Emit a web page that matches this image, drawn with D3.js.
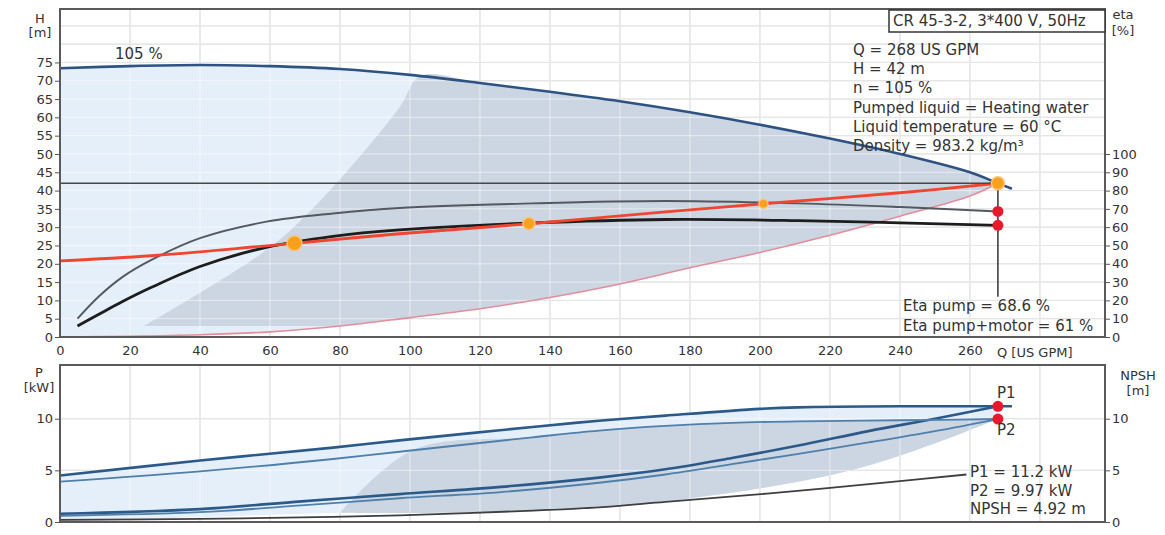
<!DOCTYPE html>
<html><head><meta charset="utf-8">
<script src="https://cdn.jsdelivr.net/npm/d3@7"></script>
<style>
body{margin:0;background:#fff}
svg{display:block}
text{font-family:"DejaVu Sans",sans-serif;fill:#333}
</style>
</head><body>
<svg id="c" width="1165" height="535"></svg>
<script>
// ---------- tick labels ----------
const qTicks = [0,20,40,60,80,100,120,140,160,180,200,220,240,260];
const qGrid = [20,40,60,80,100,120,140,160,180,200,220,240,260,280];
const hTicks = [0,5,10,15,20,25,30,35,40,45,50,55,60,65,70,75];
const hGrid = [5,10,15,20,25,30,35,40,45,50,55,60,65,70,75,80,85];
const etaTicks = [0,10,20,30,40,50,60,70,80,90,100];
const pTicks = [0,5,10];
const pGrid = [5,10];
const npshTicks = [0,5,10];

// ---------- pump head curve (105 %) ----------
const headQ = [0,20,40,60,80,100,120,140,160,180,200,220,240,260,268,272];
const headH = [73.4,74.0,74.3,74.0,73.2,71.6,69.4,67.0,64.4,61.4,58.0,54.2,50.0,45.0,42.0,40.5];

// ---------- system curve ----------
const sysQ = [0,20,40,60,80,100,120,140,160,180,200,220,240,260,268];
const sysH = [0,0.2,0.6,1.4,3.0,5.3,7.7,10.8,14.5,18.9,23.1,27.8,33.0,38.5,42.0];

// ---------- load profile line (red) ----------
const loadQ = [0,26,59,97,135,173,201,240,268];
const loadH = [20.8,22.2,24.9,28.2,31.0,34.2,36.4,39.4,42.0];
const profileQ = [67,134,201,268];
const profileH = [25.6,31.0,36.4,42.0];

// ---------- efficiencies ----------
const etaPumpQ = [5,11,18,26,40,59,78,97,135,173,211,240,268];
const etaPumpV = [10,22,33,42,54,63,67.5,70.5,73,74.3,73,71,68.6];
const etaTotQ = [5,11,18,26,40,59,78,97,135,173,211,240,268];
const etaTotV = [6,12.3,19.5,27,38.5,49,55,58.5,62.3,64.2,63.6,62.4,61.0];

// ---------- operating point ----------
const dutyQ = 268, dutyH = 42, etaPumpDuty = 68.6, etaTotDuty = 61;
const p1Duty = 11.2, p2Duty = 9.97, npshDuty = 4.92;
const leaderEtaEnd = 22;

// ---------- power curves ----------
const p1HighQ = [0,40,78,97,135,154,173,200,211,240,268,272];
const p1HighV = [4.5,5.95,7.2,7.9,9.2,9.8,10.3,10.95,11.1,11.2,11.2,11.2];
const p2HighQ = [0,40,78,97,135,154,173,192,211,240,268];
const p2HighV = [3.9,4.9,6.1,6.8,8.2,8.85,9.3,9.6,9.75,9.85,9.97];
const p1LowQ = [0,40,69,97,126,154,173,192,211,231,250,268];
const p1LowV = [0.8,1.25,2.0,2.7,3.4,4.3,5.1,6.2,7.4,8.8,10.0,11.2];
const p2LowQ = [0,40,69,97,126,154,173,192,211,231,250,268];
const p2LowV = [0.6,0.95,1.6,2.3,2.9,3.8,4.6,5.6,6.6,7.7,8.8,9.97];
const npshQ = [0,40,78,97,135,155,173,202,240,259];
const npshV = [0.2,0.3,0.5,0.65,1.1,1.45,1.95,2.75,3.95,4.6];

// ---------- shaded regions ----------
const topEdgeQ = [24,45,62,78,97,103];
const topEdgeH = [3,15,26,41,62.7,71.3];
const topFloorH = 3;
const botEdgeQ = [80,101];
const botEdgeV = [0.9,7.0];
const botLowQ = [0,80,155,226,268];
const botLowV = [0,0.9,1.4,5.0,9.97];

// ---------- texts ----------
const titleText = "CR 45-3-2, 3*400 V, 50Hz";
const infoLines = ["Q = 268 US GPM","H = 42 m","n = 105 %","Pumped liquid = Heating water","Liquid temperature = 60 °C","Density = 983.2 kg/m³"];
const etaLines = ["Eta pump = 68.6 %","Eta pump+motor = 61 %"];
const powerLines = ["P1 = 11.2 kW","P2 = 9.97 kW","NPSH = 4.92 m"];
const speedLabel = "105 %";

// =============== drawing ===============
const svg = d3.select('#c');
const zip = (a,b) => a.map((v,i)=>[v,b[i]]);

const L = 60, R = 1105, T1 = 9, B1 = 337, T2 = 365, B2 = 522;
const x = d3.scaleLinear().domain([0,298.6]).range([L,R]);
const yH = d3.scaleLinear().domain([0,89.6]).range([B1,T1]);
const yE = d3.scaleLinear().domain([0,179.2]).range([B1,T1]);
const yP = d3.scaleLinear().domain([0,15.2]).range([B2,T2]);

const curve = d3.curveCatmullRom.alpha(0.5);
const lineH = d3.line().x(d=>x(d[0])).y(d=>yH(d[1])).curve(curve);
const lineE = d3.line().x(d=>x(d[0])).y(d=>yE(d[1])).curve(curve);
const lineP = d3.line().x(d=>x(d[0])).y(d=>yP(d[1])).curve(curve);

const gridColor = '#c6c6c6';
function grid(g, top, bottom, hs, yScale, color, op){
  g.selectAll(null).data(qGrid).enter().append('line')
    .attr('x1',d=>x(d)).attr('x2',d=>x(d)).attr('y1',top).attr('y2',bottom)
    .attr('stroke',color).attr('stroke-width',1).attr('opacity',op);
  g.selectAll(null).data(hs).enter().append('line')
    .attr('x1',L).attr('x2',R).attr('y1',d=>yScale(d)).attr('y2',d=>yScale(d))
    .attr('stroke',color).attr('stroke-width',1).attr('opacity',op);
}
grid(svg.append('g'), T1, B1, hGrid, yH, gridColor, 1);
grid(svg.append('g'), T2, B2, pGrid, yP, gridColor, 1);

const lightFill = '#e5effa', grayFill = '#cbd6e2';

// top light fill : head curve above system curve
const headPts = zip(headQ, headH).filter(d=>d[0]<=268);
const sysPts = zip(sysQ, sysH);
svg.append('path')
  .attr('d', lineH(headPts) + 'L' + lineH(sysPts.slice().reverse()).slice(1) + 'Z')
  .attr('fill', lightFill);
// top gray fill
const edge = zip(topEdgeQ, topEdgeH);
const headAfter = headPts.filter(d=>d[0] > topEdgeQ[topEdgeQ.length-1]);
const sysBack = sysPts.filter(d=>d[1] >= topFloorH).reverse();
svg.append('path')
  .attr('d', lineH(edge.concat(headAfter)) + 'L' + lineH(sysBack).slice(1) + 'Z')
  .attr('fill', grayFill);

// bottom light fill
const p1HighPts = zip(p1HighQ, p1HighV).filter(d=>d[0]<=268);
const botLow = zip(botLowQ, botLowV);
svg.append('path')
  .attr('d', lineP(p1HighPts) + 'L' + lineP(botLow.slice().reverse()).slice(1) + 'Z')
  .attr('fill', lightFill);
// bottom gray fill
const p2HighPts = zip(p2HighQ, p2HighV);
const bEdge = zip(botEdgeQ, botEdgeV);
const p2After = p2HighPts.filter(d=>d[0] > botEdgeQ[botEdgeQ.length-1]);
const lowBack = botLow.filter(d=>d[0] >= botEdgeQ[0]).reverse();
svg.append('path')
  .attr('d', lineP(bEdge.concat(p2After)) + 'L' + lineP(lowBack).slice(1) + 'Z')
  .attr('fill', grayFill);

// white grid over fills
grid(svg.append('g'), T1, B1, hGrid, yH, '#ffffff', 0.55);
grid(svg.append('g'), T2, B2, pGrid, yP, '#ffffff', 0.55);

// ---------- top curves ----------
function stroke(d, color, w, op){
  svg.append('path').attr('d', d).attr('fill','none').attr('stroke',color)
    .attr('stroke-width',w).attr('opacity', op||1).attr('stroke-linejoin','round');
}
stroke(lineH(sysPts), '#e58c9b', 1.6);
stroke(lineE(zip(etaPumpQ, etaPumpV)), '#55595f', 1.9);
stroke(lineE(zip(etaTotQ, etaTotV)), '#1d1d1d', 2.8);
stroke(lineH(zip(loadQ, loadH)), '#f04631', 2.8);
stroke(lineH(zip(headQ, headH)), '#2e5282', 2.6);

// duty head line + leader
svg.append('line').attr('x1',L).attr('x2',x(dutyQ)).attr('y1',yH(dutyH)).attr('y2',yH(dutyH))
  .attr('stroke','#474747').attr('stroke-width',1.7);
svg.append('line').attr('x1',x(dutyQ)).attr('x2',x(dutyQ)).attr('y1',yH(dutyH)).attr('y2',yE(leaderEtaEnd))
  .attr('stroke','#333').attr('stroke-width',1.5);

// load profile dots
const profR = [7.5,6,4.5,6.5];
svg.selectAll(null).data(zip(profileQ, profileH)).enter().append('circle')
  .attr('cx',d=>x(d[0])).attr('cy',d=>yH(d[1])).attr('r',(d,i)=>profR[i])
  .attr('fill','#f7a11c').attr('stroke','#fbc47a').attr('stroke-width',1.5);
// efficiency dots
svg.selectAll(null).data([etaPumpDuty, etaTotDuty]).enter().append('circle')
  .attr('cx',x(dutyQ)).attr('cy',d=>yE(d)).attr('r',5.5).attr('fill','#e8192c');

// ---------- bottom curves ----------
stroke(lineP(zip(npshQ, npshV)), '#3f3f3f', 1.8);
stroke(lineP(zip(p2LowQ, p2LowV)), '#4f7fab', 1.8);
stroke(lineP(zip(p1LowQ, p1LowV)), '#2b5a8a', 2.6);
stroke(lineP(p2HighPts), '#4f7fab', 1.8);
stroke(lineP(zip(p1HighQ, p1HighV)), '#2b5a8a', 2.6);
svg.selectAll(null).data([p1Duty, p2Duty]).enter().append('circle')
  .attr('cx',x(dutyQ)).attr('cy',d=>yP(d)).attr('r',5.5).attr('fill','#e8192c');

// ---------- frames ----------
svg.append('rect').attr('x',L).attr('y',T1).attr('width',R-L).attr('height',B1-T1)
  .attr('fill','none').attr('stroke','#5a5a5a').attr('stroke-width',2);
svg.append('rect').attr('x',L).attr('y',T2).attr('width',R-L).attr('height',B2-T2)
  .attr('fill','none').attr('stroke','#5a5a5a').attr('stroke-width',2);

// ---------- axes ----------
function styleAxis(g, size){
  g.select('.domain').remove();
  g.selectAll('line').attr('stroke','#555');
  g.selectAll('text').attr('font-family','DejaVu Sans').attr('font-size',size).attr('fill','#333');
}
svg.append('g').attr('transform',`translate(${L},0)`)
  .call(d3.axisLeft(yH).tickValues(hTicks).tickSize(5).tickPadding(2).tickFormat(d3.format('d')))
  .call(g=>styleAxis(g,13));
svg.append('g').attr('transform',`translate(${R},0)`)
  .call(d3.axisRight(yE).tickValues(etaTicks).tickSize(5).tickPadding(2).tickFormat(d3.format('d')))
  .call(g=>styleAxis(g,13));
svg.append('g').attr('transform',`translate(0,${B1})`)
  .call(d3.axisBottom(x).tickValues(qTicks).tickSize(0).tickPadding(9).tickFormat(d3.format('d')))
  .call(g=>styleAxis(g,13));
svg.append('g').attr('transform',`translate(${L},0)`)
  .call(d3.axisLeft(yP).tickValues(pTicks).tickSize(5).tickPadding(2).tickFormat(d3.format('d')))
  .call(g=>styleAxis(g,13));
svg.append('g').attr('transform',`translate(${R},0)`)
  .call(d3.axisRight(yP).tickValues(npshTicks).tickSize(5).tickPadding(2).tickFormat(d3.format('d')))
  .call(g=>styleAxis(g,13));

// ---------- texts ----------
function txt(s, tx, ty, size, anchor, color){
  svg.append('text').attr('x',tx).attr('y',ty).attr('font-size',size)
    .attr('text-anchor',anchor||'start').attr('fill',color||'#333').text(s);
}
txt('H', 40, 23, 13, 'middle'); txt('[m]', 40, 37, 13, 'middle');
txt('eta', 1123, 19, 13, 'middle'); txt('[%]', 1123, 35, 13, 'middle');
txt('P', 39, 377, 13, 'middle'); txt('[kW]', 39, 392, 13, 'middle');
txt('NPSH', 1138, 380, 13, 'middle'); txt('[m]', 1138, 395, 13, 'middle');
txt('Q [US GPM]', 997, 357, 13);
txt(speedLabel, 115, 59, 15);

svg.append('rect').attr('x',889).attr('y',10).attr('width',R-889).attr('height',22)
  .attr('fill','#fff').attr('stroke','#333').attr('stroke-width',1.5);
txt(titleText, 893, 26, 15);
infoLines.forEach((s,i)=>txt(s, 853, 55 + i*19.2, 15));
etaLines.forEach((s,i)=>txt(s, 903, 311 + i*20, 15));
powerLines.forEach((s,i)=>txt(s, 970, 477 + i*18.5, 15));
txt('P1', 997, 398, 15, 'start', '#3d7fa8');
txt('P2', 997, 435, 15, 'start', '#3d7fa8');
</script>
</body></html>
